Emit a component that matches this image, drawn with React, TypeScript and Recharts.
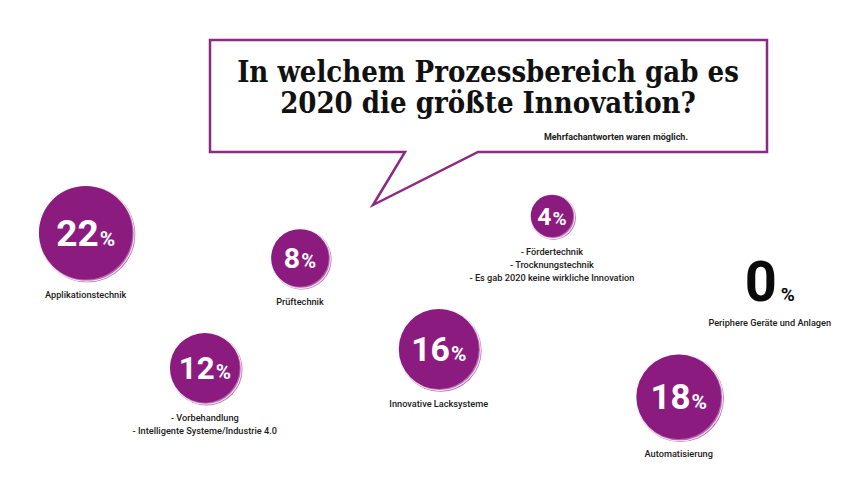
import React from "react";
import { ScatterChart, Scatter, XAxis, YAxis, ZAxis } from "recharts";

// Survey answers: share of mentions per process area (multiple answers allowed)
const categories = [
  "Applikationstechnik",
  "Prüftechnik",
  "- Vorbehandlung\n- Intelligente Systeme/Industrie 4.0",
  "Innovative Lacksysteme",
  "- Fördertechnik\n- Trocknungstechnik\n- Es gab 2020 keine wirkliche Innovation",
  "Automatisierung",
  "Periphere Geräte und Anlagen",
];
const shares = [22, 8, 12, 16, 4, 18, 0];

// Bubble placement on a 0–100 layout grid (x left→right, y top→bottom)
const gridX = [10.0, 35.0, 23.9, 51.2, 64.4, 79.2, 89.0];
const gridY = [48.1, 53.3, 76.0, 72.1, 44.6, 82.0, 58.1];

const TITLE_LINES = ["In welchem Prozessbereich gab es", "2020 die größte Innovation?"];
const NOTE = "Mehrfachantworten waren möglich.";

const W = 857;
const H = 484;
const PURPLE = "#8b1b7f";

const data = shares.map((v, i) => ({
  x: gridX[i],
  y: gridY[i],
  z: v,
  name: categories[i],
}));

const labelFont = "Roboto, 'Liberation Sans', sans-serif";

function CategoryLabel({ x, y, lines }: { x: number; y: number; lines: string[] }) {
  return (
    <g>
      {lines.map((t, k) => (
        <text
          key={k}
          x={x}
          y={y + k * 13}
          textAnchor="middle"
          fontFamily={labelFont}
          fontWeight={500}
          fontSize={9.2}
          fill="#1a1a1a"
        >
          {t}
        </text>
      ))}
    </g>
  );
}

function Bubble(props: any) {
  const { cx, cy, width, payload } = props;
  const value: number = payload.z;
  const lines: string[] = String(payload.name).split("\n");

  if (value === 0) {
    // No bubble for zero: large plain figure instead
    return (
      <g>
        <text
          x={cx + 7}
          y={cy + 20}
          textAnchor="middle"
          fontFamily={labelFont}
          fontWeight={700}
          fill="#0a0a0a"
        >
          <tspan fontSize={56}>{value}</tspan>
          <tspan fontSize={19} dx={4}>%</tspan>
        </text>
        <CategoryLabel x={cx + 7} y={cy + 45} lines={lines} />
      </g>
    );
  }

  const r = width / 2;
  const fs = 14 + 0.48 * r;
  const pct = 0.95 - 0.008 * r;
  return (
    <g>
      <circle cx={cx + 1.6} cy={cy + 1.6} r={r} fill="#b36aab" />
      <circle cx={cx + 1} cy={cy + 1} r={r - 0.6} fill="none" stroke="#f4e6f2" strokeWidth={1.1} />
      <circle cx={cx} cy={cy} r={r - 1.2} fill={PURPLE} />
      <text
        x={cx}
        y={cy + fs * 0.36}
        textAnchor="middle"
        fontFamily={labelFont}
        fontWeight={700}
        fill="#ffffff"
      >
        <tspan fontSize={fs}>{value}</tspan>
        <tspan fontSize={fs * pct} dx={1}>%</tspan>
      </text>
      <CategoryLabel x={cx} y={cy + r + 17} lines={lines} />
    </g>
  );
}

function SpeechBubble() {
  return (
    <svg
      width={W}
      height={H}
      style={{ position: "absolute", left: 0, top: 0, pointerEvents: "none" }}
    >
      <path
        d="M210,40 H767 V152 H478 L373,205 L405,152 H210 Z"
        fill="#ffffff"
        stroke="#8a2a84"
        strokeWidth={2.5}
        strokeLinejoin="miter"
      />
      {TITLE_LINES.map((t, i) => (
        <text
          key={i}
          x={488}
          y={82 + i * 31}
          textAnchor="middle"
          fontFamily="'DejaVu Serif Condensed', 'DejaVu Serif', serif"
          fontStretch="condensed"
          fontWeight={700}
          fontSize={29}
          fill="#111111"
        >
          {t}
        </text>
      ))}
      <text
        x={688}
        y={140}
        textAnchor="end"
        fontFamily="Roboto, sans-serif"
        fontWeight={700}
        fontSize={9}
        fill="#222222"
      >
        {NOTE}
      </text>
    </svg>
  );
}

export default function App() {
  return (
    <div style={{ position: "absolute", left: 0, top: 0, width: W, height: H, background: "#ffffff" }}>
      <ScatterChart width={W} height={H} margin={{ top: 0, right: 0, bottom: 0, left: 0 }}>
        <XAxis type="number" dataKey="x" domain={[0, 100]} hide />
        <YAxis type="number" dataKey="y" domain={[0, 100]} reversed hide />
        <ZAxis type="number" dataKey="z" domain={[0, 22]} range={[314, 7226]} />
        <Scatter data={data} shape={Bubble} isAnimationActive={false} />
      </ScatterChart>
      <SpeechBubble />
    </div>
  );
}
